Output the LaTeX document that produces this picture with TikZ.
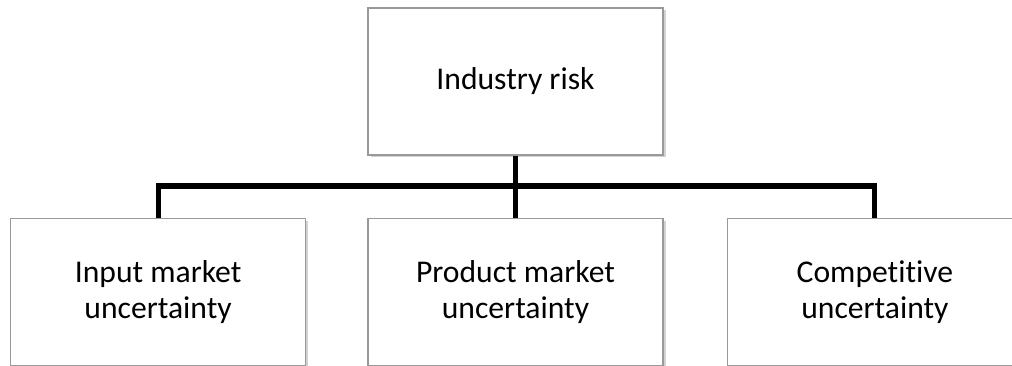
\documentclass[tikz,border=0pt]{standalone}
\usepackage{fontspec}
\setmainfont[Ligatures=NoCommon]{Carlito}
\usetikzlibrary{positioning,shadows}

\begin{document}
\begin{tikzpicture}[
  box/.style={draw=black!40, line width=0.8pt, fill=white, minimum width=5.9cm, minimum height=2.94cm, align=center, inner sep=0pt, font=\fontsize{18}{20.5}\selectfont, drop shadow={shadow xshift=0.05cm, shadow yshift=-0.05cm, fill=black!35, opacity=0.5}},
  link/.style={line width=0.1cm, black}
]
\useasboundingbox (0,0) rectangle (20.24,7.30);
\node[box] at (10.31,5.67) (top) {Industry risk};
\node[box, below=1.24cm of top] (prod) {Product market\\uncertainty};
\node[box, left=1.22cm of prod] (inp) {Input market\\uncertainty};
\node[box, right=1.26cm of prod] (comp) {Competitive\\uncertainty};
\coordinate (bus) at (0,3.58);
\draw[link] (top.south) -- (prod.north);
\draw[link] (inp.north) |- (prod.north |- bus) -| (comp.north);
\end{tikzpicture}
\end{document}
